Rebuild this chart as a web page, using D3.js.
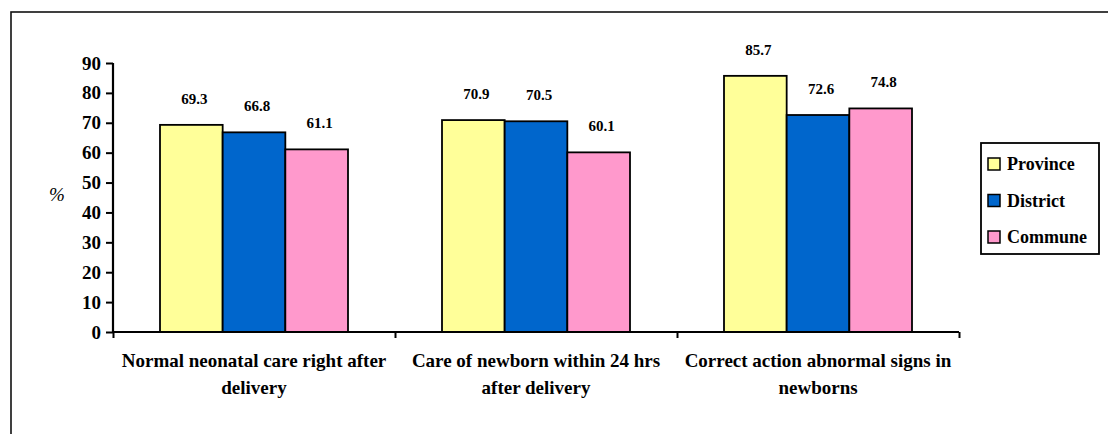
<!DOCTYPE html>
<html>
<head>
<meta charset="utf-8">
<script src="https://cdn.jsdelivr.net/npm/d3@7"></script>
<style>
  html, body { margin: 0; padding: 0; background: #fff; }
  svg { display: block; }
  svg text { font-family: "Liberation Serif", Tinos, "Times New Roman", Times, "DejaVu Serif", serif; font-weight: bold; fill: #000; }
</style>
</head>
<body>
<svg id="chart" width="1108" height="434"></svg>
<script>
// Survey results (%) by level of health facility
const categories = [
  ["Normal neonatal care right after", "delivery"],
  ["Care of newborn within 24 hrs", "after delivery"],
  ["Correct action abnormal signs in", "newborns"]
];
const seriesNames = ["Province", "District", "Commune"];
const province = [69.3, 70.9, 85.7];
const district = [66.8, 70.5, 72.6];
const commune  = [61.1, 60.1, 74.8];
const yTicks = [0, 10, 20, 30, 40, 50, 60, 70, 80, 90];

const seriesValues = [province, district, commune];
const colors = ["#FFFF99", "#0066CC", "#FF99CC"];
const serif = "'Liberation Serif', Tinos, 'Times New Roman', Times, 'DejaVu Serif', serif";

const svg = d3.select("#chart");

// outer frame of the chart area
svg.append("rect")
  .attr("x", 11).attr("y", 12)
  .attr("width", 1120).attr("height", 440)
  .attr("fill", "none").attr("stroke", "#111").attr("stroke-width", 1.6);

const plot = { left: 113, right: 959, top: 63, bottom: 332 };

const x = d3.scaleBand()
  .domain(d3.range(categories.length))
  .range([plot.left, plot.right])
  .paddingInner(0).paddingOuter(0);

const x1 = d3.scaleBand()
  .domain(d3.range(seriesNames.length))
  .range([x.bandwidth() / 6, x.bandwidth() * 5 / 6]);

const y = d3.scaleLinear().domain([0, 90]).range([plot.bottom, plot.top]);

// bars
const groups = svg.append("g").selectAll("g")
  .data(d3.range(categories.length))
  .join("g")
  .attr("transform", i => `translate(${x(i)},0)`);

groups.selectAll("rect")
  .data(i => seriesValues.map((vals, s) => ({ s, v: vals[i] })))
  .join("rect")
  .attr("x", d => x1(d.s))
  .attr("y", d => y(d.v))
  .attr("width", x1.bandwidth())
  .attr("height", d => y(0) - y(d.v))
  .attr("fill", d => colors[d.s])
  .attr("stroke", "#000")
  .attr("stroke-width", 1.8);

// value labels
groups.selectAll("text.val")
  .data(i => seriesValues.map((vals, s) => ({ s, v: vals[i] })))
  .join("text")
  .attr("class", "val")
  .attr("x", d => x1(d.s) + x1.bandwidth() / 2 + 3)
  .attr("y", d => y(d.v) - 21)
  .attr("text-anchor", "middle")
  .style("font-family", serif)
  .style("font-size", "15px")
  .text(d => d.v.toFixed(1));

// y axis
const yAxis = svg.append("g")
  .attr("transform", `translate(${plot.left},0)`)
  .call(d3.axisLeft(y).tickValues(yTicks).tickSize(7).tickPadding(5).tickFormat(d3.format("d")));
yAxis.attr("font-family", null).attr("font-size", null);
yAxis.select(".domain").attr("stroke", "#000").attr("stroke-width", 2.2)
  .attr("d", `M0,${plot.top}V${plot.bottom}`);
yAxis.selectAll(".tick line").attr("stroke", "#000").attr("stroke-width", 2);
yAxis.selectAll(".tick text")
  .style("font-family", serif)
  .style("font-weight", "bold")
  .style("font-size", "19px");

// x axis line with ticks at category boundaries
const xb = d3.scaleLinear().domain([0, categories.length]).range([plot.left, plot.right]);
const xAxis = svg.append("g")
  .attr("transform", `translate(0,${plot.bottom})`)
  .call(d3.axisBottom(xb).ticks(categories.length).tickSize(6).tickFormat(""));
xAxis.select(".domain").attr("stroke", "#000").attr("stroke-width", 2.2)
  .attr("d", `M${plot.left},0H${plot.right}`);
xAxis.selectAll(".tick line").attr("stroke", "#000").attr("stroke-width", 2);

// category labels
const catLabels = svg.append("g").selectAll("text")
  .data(categories)
  .join("text")
  .attr("text-anchor", "middle")
  .style("font-family", serif)
  .style("font-size", "19px")
  .attr("x", (d, i) => x(i) + x.bandwidth() / 2)
  .attr("y", 367);
catLabels.selectAll("tspan")
  .data(d => d)
  .join("tspan")
  .attr("x", function () { return d3.select(this.parentNode).attr("x"); })
  .attr("dy", (d, j) => j === 0 ? 0 : 27)
  .text(d => d);

// y axis title
svg.append("text")
  .attr("x", 57).attr("y", 201)
  .attr("text-anchor", "middle")
  .style("font-family", serif)
  .style("font-size", "19px")
  .style("font-weight", "normal")
  .style("font-style", "italic")
  .text("%");

// legend
const legend = svg.append("g").attr("transform", "translate(981,143)");
legend.append("rect")
  .attr("width", 118).attr("height", 111)
  .attr("fill", "#fff").attr("stroke", "#000").attr("stroke-width", 1.8);
const items = legend.selectAll("g.item")
  .data(seriesNames)
  .join("g")
  .attr("class", "item")
  .attr("transform", (d, i) => `translate(7,${21 + i * 36.5})`);
items.append("rect")
  .attr("x", 0).attr("y", -6)
  .attr("width", 12).attr("height", 12)
  .attr("fill", (d, i) => colors[i])
  .attr("stroke", "#000").attr("stroke-width", 1.5);
items.append("text")
  .attr("x", 19).attr("y", 6)
  .style("font-family", serif)
  .style("font-size", "18px")
  .text(d => d);
</script>
</body>
</html>
